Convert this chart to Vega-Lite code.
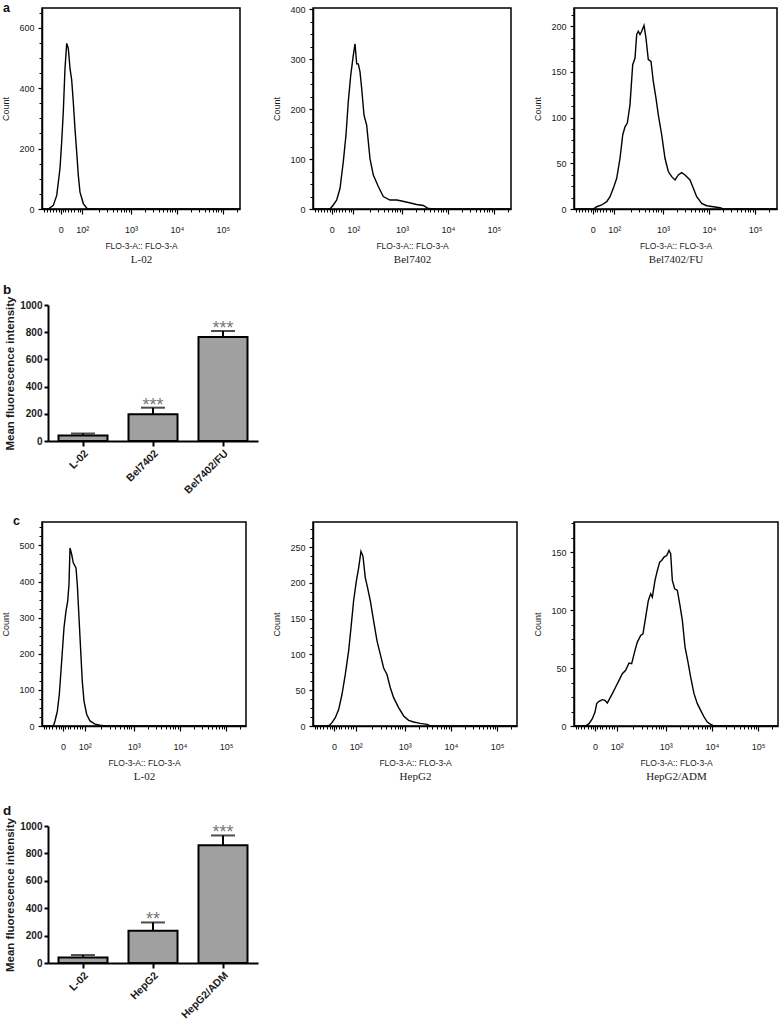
{
  "$schema": "https://vega.github.io/schema/vega-lite/v6.json",
  "padding": {"left": 0, "top": 0, "right": 0, "bottom": 0},
  "autosize": {"type": "pad"},
  "background": "white",
  "bounds": "flush",
  "spacing": 0,
  "columns": 5,
  "datasets": {
    "a1": [{"pos":1.065,"count":0},{"pos":1.202,"count":0},{"pos":1.311,"count":12},{"pos":1.385,"count":45},{"pos":1.456,"count":134},{"pos":1.493,"count":222},{"pos":1.528,"count":322},{"pos":1.565,"count":465},{"pos":1.602,"count":548},{"pos":1.637,"count":531},{"pos":1.674,"count":465},{"pos":1.71,"count":427},{"pos":1.745,"count":355},{"pos":1.782,"count":266},{"pos":1.819,"count":189},{"pos":1.854,"count":112},{"pos":1.891,"count":56},{"pos":1.963,"count":18},{"pos":2.05,"count":1},{"pos":2.3,"count":0},{"pos":5.37,"count":0}],
    "a2": [{"pos":1.065,"count":0},{"pos":1.435,"count":0},{"pos":1.506,"count":8},{"pos":1.58,"count":18},{"pos":1.652,"count":41},{"pos":1.724,"count":95},{"pos":1.782,"count":148},{"pos":1.832,"count":215},{"pos":1.885,"count":268},{"pos":1.941,"count":308},{"pos":1.978,"count":331},{"pos":2.015,"count":291},{"pos":2.05,"count":291},{"pos":2.087,"count":275},{"pos":2.124,"count":241},{"pos":2.174,"count":188},{"pos":2.232,"count":168},{"pos":2.304,"count":101},{"pos":2.376,"count":68},{"pos":2.485,"count":45},{"pos":2.593,"count":25},{"pos":2.739,"count":18},{"pos":2.885,"count":18},{"pos":2.993,"count":16},{"pos":3.137,"count":13},{"pos":3.319,"count":9},{"pos":3.463,"count":7},{"pos":3.571,"count":1},{"pos":3.7,"count":0},{"pos":5.37,"count":0}],
    "a3": [{"pos":1.065,"count":0},{"pos":1.485,"count":0},{"pos":1.558,"count":2.5},{"pos":1.667,"count":4.4},{"pos":1.776,"count":8},{"pos":1.848,"count":13.5},{"pos":1.919,"count":22.6},{"pos":1.993,"count":33.6},{"pos":2.065,"count":55.5},{"pos":2.124,"count":81},{"pos":2.174,"count":90},{"pos":2.224,"count":94},{"pos":2.282,"count":114},{"pos":2.341,"count":158},{"pos":2.391,"count":165},{"pos":2.428,"count":191},{"pos":2.463,"count":194.5},{"pos":2.5,"count":191},{"pos":2.537,"count":194.5},{"pos":2.587,"count":201},{"pos":2.63,"count":187},{"pos":2.68,"count":163.5},{"pos":2.739,"count":161.6},{"pos":2.789,"count":139.6},{"pos":2.848,"count":121},{"pos":2.898,"count":103},{"pos":2.972,"count":81},{"pos":3.043,"count":55.5},{"pos":3.115,"count":41},{"pos":3.189,"count":35.4},{"pos":3.261,"count":31.8},{"pos":3.333,"count":37.3},{"pos":3.406,"count":39.8},{"pos":3.478,"count":37.3},{"pos":3.587,"count":31.8},{"pos":3.659,"count":22.6},{"pos":3.732,"count":13.5},{"pos":3.841,"count":6.1},{"pos":3.95,"count":3.6},{"pos":4.093,"count":2.5},{"pos":4.239,"count":1.4},{"pos":4.311,"count":0},{"pos":5.478,"count":0}],
    "c1": [{"pos":1.015,"count":0},{"pos":1.26,"count":0},{"pos":1.296,"count":14},{"pos":1.347,"count":41},{"pos":1.39,"count":88},{"pos":1.441,"count":180},{"pos":1.491,"count":272},{"pos":1.534,"count":318},{"pos":1.571,"count":346},{"pos":1.599,"count":392},{"pos":1.621,"count":493},{"pos":1.658,"count":475},{"pos":1.692,"count":452},{"pos":1.751,"count":438},{"pos":1.779,"count":392},{"pos":1.816,"count":300},{"pos":1.853,"count":207},{"pos":1.887,"count":124},{"pos":1.924,"count":69},{"pos":1.983,"count":32},{"pos":2.054,"count":14},{"pos":2.162,"count":5},{"pos":2.27,"count":2},{"pos":2.4,"count":0},{"pos":5.43,"count":0}],
    "c2": [{"pos":1.015,"count":0},{"pos":1.353,"count":0},{"pos":1.426,"count":4.7},{"pos":1.498,"count":11.6},{"pos":1.57,"count":23},{"pos":1.642,"count":44},{"pos":1.714,"count":72},{"pos":1.786,"count":105},{"pos":1.837,"count":137},{"pos":1.894,"count":175},{"pos":1.952,"count":202},{"pos":2.003,"count":221},{"pos":2.053,"count":244},{"pos":2.097,"count":237},{"pos":2.147,"count":207},{"pos":2.197,"count":193},{"pos":2.255,"count":175},{"pos":2.327,"count":147},{"pos":2.4,"count":119},{"pos":2.472,"count":100},{"pos":2.544,"count":81},{"pos":2.616,"count":72},{"pos":2.688,"count":53.5},{"pos":2.76,"count":39.6},{"pos":2.868,"count":25.6},{"pos":2.977,"count":14},{"pos":3.085,"count":7.9},{"pos":3.193,"count":5.6},{"pos":3.338,"count":3.7},{"pos":3.482,"count":2.3},{"pos":3.554,"count":0},{"pos":5.43,"count":0}],
    "c3": [{"pos":1.015,"count":0},{"pos":1.268,"count":0},{"pos":1.34,"count":2},{"pos":1.412,"count":6.3},{"pos":1.47,"count":12},{"pos":1.506,"count":19.3},{"pos":1.556,"count":21.3},{"pos":1.628,"count":22.7},{"pos":1.686,"count":22.1},{"pos":1.736,"count":19.8},{"pos":1.787,"count":23.6},{"pos":1.845,"count":27.9},{"pos":1.917,"count":33.6},{"pos":1.989,"count":39.4},{"pos":2.061,"count":45.1},{"pos":2.133,"count":48},{"pos":2.205,"count":54.3},{"pos":2.263,"count":53.7},{"pos":2.335,"count":65.2},{"pos":2.386,"count":72.4},{"pos":2.458,"count":78.2},{"pos":2.508,"count":79.6},{"pos":2.566,"count":94},{"pos":2.624,"count":108.3},{"pos":2.674,"count":114.1},{"pos":2.71,"count":111.2},{"pos":2.768,"count":125.6},{"pos":2.819,"count":134.2},{"pos":2.869,"count":141.4},{"pos":2.913,"count":142.8},{"pos":2.963,"count":145.7},{"pos":3.021,"count":147.1},{"pos":3.071,"count":151.5},{"pos":3.107,"count":148.6},{"pos":3.143,"count":125.6},{"pos":3.194,"count":118.4},{"pos":3.252,"count":117},{"pos":3.302,"count":105.5},{"pos":3.36,"count":91.1},{"pos":3.418,"count":68.1},{"pos":3.475,"count":56.6},{"pos":3.54,"count":42.2},{"pos":3.612,"count":27.9},{"pos":3.684,"count":19.3},{"pos":3.757,"count":13.5},{"pos":3.829,"count":7.8},{"pos":3.901,"count":3.4},{"pos":3.973,"count":1.4},{"pos":4.045,"count":0},{"pos":5.43,"count":0}],
    "b": [{"group":"L-02","mean":40,"upper":55,"sig":""},{"group":"Bel7402","mean":196,"upper":245,"sig":"***"},{"group":"Bel7402/FU","mean":765,"upper":809,"sig":"***"}],
    "d": [{"group":"L-02","mean":41,"upper":58,"sig":""},{"group":"HepG2","mean":236,"upper":296,"sig":"**"},{"group":"HepG2/ADM","mean":859,"upper":931,"sig":"***"}],
    "blank": [{"v": 0}]
  },
  "concat": [
    {
      "width": 198, "height": 201,
      "data": {"name": "a1"},
      "title": {"text": "a", "anchor": "start", "frame": "group", "fontSize": 12.5, "fontWeight": "bold", "dx": -39, "dy": 6, "offset": 0, "color": "#111"},
      "layer": [
        {"mark": {"type": "line", "color": "black", "strokeWidth": 1.4},
         "encoding": {
           "x": {"field": "pos", "type": "quantitative", "scale": {"domain": [1.065, 5.37], "nice": false, "zero": false},
                 "axis": {"orient": "bottom", "values": [1.47, 1.94, 3, 4, 5], "labelExpr": "datum.value < 1.6 ? '0' : datum.value < 2.5 ? '10²' : datum.value < 3.5 ? '10³' : datum.value < 4.5 ? '10⁴' : '10⁵'", "labelFontSize": 9, "labelPadding": 11, "labelFlush": false, "labelOverlap": false, "tickSize": 5, "tickWidth": 1.2, "domainWidth": 1.5, "title": "FLO-3-A:: FLO-3-A", "titleFontSize": 8.5, "titleFontWeight": "normal", "titlePadding": 7}},
           "y": {"field": "count", "type": "quantitative", "scale": {"domain": [0, 665], "nice": false},
                 "axis": {"orient": "left", "values": [0, 200, 400, 600], "labelFontSize": 9, "labelPadding": 4, "tickSize": 4, "tickWidth": 1.2, "domainWidth": 1.5, "title": "Count", "titleFontSize": 9, "titleFontWeight": "normal", "titlePadding": 7, "minExtent": 25, "maxExtent": 25}}}},
        {"mark": {"type": "line", "opacity": 0},
         "encoding": {
           "x": {"field": "pos", "type": "quantitative", "scale": {"domain": [1.065, 5.37], "nice": false, "zero": false},
                 "axis": {"orient": "bottom", "values": [1.1,1.17,1.24,1.31,1.38,1.43,1.52,1.57,1.63,1.7,1.77,1.84,1.89,2.3,2.48,2.6,2.7,2.78,2.85,2.9,2.95,3.3,3.48,3.6,3.7,3.78,3.85,3.9,3.95,4.3,4.48,4.6,4.7,4.78,4.85,4.9,4.95,5.3], "labels": false, "tickSize": 3, "tickWidth": 1, "domain": false, "title": "L-02", "titleFont": "Liberation Serif", "titleFontSize": 11, "titleFontWeight": "normal", "titlePadding": 41}},
           "y": {"field": "count", "type": "quantitative", "scale": {"domain": [0, 665], "nice": false},
                 "axis": {"orient": "left", "values": [50,100,150,250,300,350,450,500,550,650], "labels": false, "tickSize": 3, "tickWidth": 1, "domain": false, "title": null}}}}
      ],
      "resolve": {"axis": {"x": "independent", "y": "independent"}}
    },
    {"width": 67, "height": 297, "view": {"stroke": null}, "data": {"name": "blank"}, "mark": {"type": "point", "opacity": 0}, "encoding": {}},
    {
      "width": 198, "height": 201,
      "data": {"name": "a2"},
      "layer": [
        {"mark": {"type": "line", "color": "black", "strokeWidth": 1.4},
         "encoding": {
           "x": {"field": "pos", "type": "quantitative", "scale": {"domain": [1.065, 5.37], "nice": false, "zero": false},
                 "axis": {"orient": "bottom", "values": [1.47, 1.94, 3, 4, 5], "labelExpr": "datum.value < 1.6 ? '0' : datum.value < 2.5 ? '10²' : datum.value < 3.5 ? '10³' : datum.value < 4.5 ? '10⁴' : '10⁵'", "labelFontSize": 9, "labelPadding": 11, "labelFlush": false, "labelOverlap": false, "tickSize": 5, "tickWidth": 1.2, "domainWidth": 1.5, "title": "FLO-3-A:: FLO-3-A", "titleFontSize": 8.5, "titleFontWeight": "normal", "titlePadding": 7}},
           "y": {"field": "count", "type": "quantitative", "scale": {"domain": [0, 403], "nice": false},
                 "axis": {"orient": "left", "values": [0, 100, 200, 300, 400], "labelFontSize": 9, "labelPadding": 4, "tickSize": 4, "tickWidth": 1.2, "domainWidth": 1.5, "title": "Count", "titleFontSize": 9, "titleFontWeight": "normal", "titlePadding": 7, "minExtent": 25, "maxExtent": 25}}}},
        {"mark": {"type": "line", "opacity": 0},
         "encoding": {
           "x": {"field": "pos", "type": "quantitative", "scale": {"domain": [1.065, 5.37], "nice": false, "zero": false},
                 "axis": {"orient": "bottom", "values": [1.1,1.17,1.24,1.31,1.38,1.43,1.52,1.57,1.63,1.7,1.77,1.84,1.89,2.3,2.48,2.6,2.7,2.78,2.85,2.9,2.95,3.3,3.48,3.6,3.7,3.78,3.85,3.9,3.95,4.3,4.48,4.6,4.7,4.78,4.85,4.9,4.95,5.3], "labels": false, "tickSize": 3, "tickWidth": 1, "domain": false, "title": "Bel7402", "titleFont": "Liberation Serif", "titleFontSize": 11, "titleFontWeight": "normal", "titlePadding": 41}},
           "y": {"field": "count", "type": "quantitative", "scale": {"domain": [0, 403], "nice": false},
                 "axis": {"orient": "left", "values": [25,50,75,125,150,175,225,250,275,325,350,375], "labels": false, "tickSize": 3, "tickWidth": 1, "domain": false, "title": null}}}}
      ],
      "resolve": {"axis": {"x": "independent", "y": "independent"}}
    },
    {"width": 57, "height": 1, "view": {"stroke": null}, "data": {"name": "blank"}, "mark": {"type": "point", "opacity": 0}, "encoding": {}},
    {
      "width": 203, "height": 201,
      "data": {"name": "a3"},
      "layer": [
        {"mark": {"type": "line", "color": "black", "strokeWidth": 1.4},
         "encoding": {
           "x": {"field": "pos", "type": "quantitative", "scale": {"domain": [1.065, 5.478], "nice": false, "zero": false},
                 "axis": {"orient": "bottom", "values": [1.47, 1.94, 3, 4, 5], "labelExpr": "datum.value < 1.6 ? '0' : datum.value < 2.5 ? '10²' : datum.value < 3.5 ? '10³' : datum.value < 4.5 ? '10⁴' : '10⁵'", "labelFontSize": 9, "labelPadding": 11, "labelFlush": false, "labelOverlap": false, "tickSize": 5, "tickWidth": 1.2, "domainWidth": 1.5, "title": "FLO-3-A:: FLO-3-A", "titleFontSize": 8.5, "titleFontWeight": "normal", "titlePadding": 7}},
           "y": {"field": "count", "type": "quantitative", "scale": {"domain": [0, 220], "nice": false},
                 "axis": {"orient": "left", "values": [0, 50, 100, 150, 200], "labelFontSize": 9, "labelPadding": 4, "tickSize": 4, "tickWidth": 1.2, "domainWidth": 1.5, "title": "Count", "titleFontSize": 9, "titleFontWeight": "normal", "titlePadding": 7, "minExtent": 25, "maxExtent": 25}}}},
        {"mark": {"type": "line", "opacity": 0},
         "encoding": {
           "x": {"field": "pos", "type": "quantitative", "scale": {"domain": [1.065, 5.478], "nice": false, "zero": false},
                 "axis": {"orient": "bottom", "values": [1.1,1.17,1.24,1.31,1.38,1.43,1.52,1.57,1.63,1.7,1.77,1.84,1.89,2.3,2.48,2.6,2.7,2.78,2.85,2.9,2.95,3.3,3.48,3.6,3.7,3.78,3.85,3.9,3.95,4.3,4.48,4.6,4.7,4.78,4.85,4.9,4.95,5.3], "labels": false, "tickSize": 3, "tickWidth": 1, "domain": false, "title": "Bel7402/FU", "titleFont": "Liberation Serif", "titleFontSize": 11, "titleFontWeight": "normal", "titlePadding": 41}},
           "y": {"field": "count", "type": "quantitative", "scale": {"domain": [0, 220], "nice": false},
                 "axis": {"orient": "left", "values": [12.5,25,37.5,62.5,75,87.5,112.5,125,137.5,162.5,175,187.5,212.5], "labels": false, "tickSize": 3, "tickWidth": 1, "domain": false, "title": null}}}}
      ],
      "resolve": {"axis": {"x": "independent", "y": "independent"}}
    },
    {
      "bounds": "flush",
      "spacing": 5,
      "hconcat": [
        {"width": 1, "height": 1, "view": {"stroke": null}, "data": {"name": "blank"}, "mark": {"type": "point", "opacity": 0}, "encoding": {}},
        {
          "width": 210, "height": 136,
          "view": {"stroke": null},
          "data": {"name": "b"},
          "title": {"text": "b", "anchor": "start", "frame": "group", "fontSize": 13.5, "fontWeight": "bold", "dx": -45, "dy": 1, "offset": 0, "color": "#111"},
          "encoding": {
            "x": {"field": "group", "type": "nominal", "sort": null, "scale": {"paddingInner": 0.3, "paddingOuter": 0.15},
                  "axis": {"title": null, "labelAngle": -45, "labelFontSize": 10.5, "labelFontWeight": "bold", "tickSize": 5, "tickWidth": 2, "domainWidth": 2, "labelPadding": 2}}
          },
          "layer": [
            {"mark": {"type": "bar", "fill": "#a0a0a0", "stroke": "black", "strokeWidth": 2},
             "encoding": {"y": {"field": "mean", "type": "quantitative", "scale": {"domain": [0, 1000], "nice": false},
               "axis": {"title": "Mean fluorescence intensity", "values": [0, 200, 400, 600, 800, 1000], "format": "d", "labelOverlap": false, "labelFontSize": 10, "labelFontWeight": "bold", "tickSize": 4, "tickWidth": 2, "domainWidth": 2, "labelPadding": 2, "titleFontSize": 11.5, "titleFontWeight": "bold", "titlePadding": 6, "minExtent": 27, "maxExtent": 27}}}},
            {"mark": {"type": "rule", "strokeWidth": 2, "color": "black"},
             "encoding": {"y": {"field": "mean", "type": "quantitative", "scale": {"domain": [0, 1000], "nice": false},
               "axis": {"title": "Mean fluorescence intensity", "values": [0, 200, 400, 600, 800, 1000], "format": "d", "labelOverlap": false, "labelFontSize": 10, "labelFontWeight": "bold", "tickSize": 4, "tickWidth": 2, "domainWidth": 2, "labelPadding": 2, "titleFontSize": 11.5, "titleFontWeight": "bold", "titlePadding": 6, "minExtent": 27, "maxExtent": 27}}, "y2": {"field": "upper"}}},
            {"mark": {"type": "tick", "color": "black", "thickness": 2, "size": 24},
             "encoding": {"y": {"field": "upper", "type": "quantitative", "scale": {"domain": [0, 1000], "nice": false},
               "axis": {"title": "Mean fluorescence intensity", "values": [0, 200, 400, 600, 800, 1000], "format": "d", "labelOverlap": false, "labelFontSize": 10, "labelFontWeight": "bold", "tickSize": 4, "tickWidth": 2, "domainWidth": 2, "labelPadding": 2, "titleFontSize": 11.5, "titleFontWeight": "bold", "titlePadding": 6, "minExtent": 27, "maxExtent": 27}}}},
            {"mark": {"type": "text", "fontSize": 18, "color": "#777777", "baseline": "alphabetic", "dy": 3},
             "encoding": {"y": {"field": "upper", "type": "quantitative", "scale": {"domain": [0, 1000], "nice": false},
               "axis": {"title": "Mean fluorescence intensity", "values": [0, 200, 400, 600, 800, 1000], "format": "d", "labelOverlap": false, "labelFontSize": 10, "labelFontWeight": "bold", "tickSize": 4, "tickWidth": 2, "domainWidth": 2, "labelPadding": 2, "titleFontSize": 11.5, "titleFontWeight": "bold", "titlePadding": 6, "minExtent": 27, "maxExtent": 27}}, "text": {"field": "sig"}}}
          ]
        }
      ]
    },
    {"width": 1, "height": 217, "view": {"stroke": null}, "data": {"name": "blank"}, "mark": {"type": "point", "opacity": 0}, "encoding": {}},
    {"width": 1, "height": 1, "view": {"stroke": null}, "data": {"name": "blank"}, "mark": {"type": "point", "opacity": 0}, "encoding": {}},
    {"width": 1, "height": 1, "view": {"stroke": null}, "data": {"name": "blank"}, "mark": {"type": "point", "opacity": 0}, "encoding": {}},
    {"width": 1, "height": 1, "view": {"stroke": null}, "data": {"name": "blank"}, "mark": {"type": "point", "opacity": 0}, "encoding": {}},
    {
      "width": 204, "height": 204,
      "data": {"name": "c1"},
      "title": {"text": "c", "anchor": "start", "frame": "group", "fontSize": 12.5, "fontWeight": "bold", "dx": -29, "dy": 5, "offset": 0, "color": "#111"},
      "layer": [
        {"mark": {"type": "line", "color": "black", "strokeWidth": 1.4},
         "encoding": {
           "x": {"field": "pos", "type": "quantitative", "scale": {"domain": [1.015, 5.43], "nice": false, "zero": false},
                 "axis": {"orient": "bottom", "values": [1.47, 1.94, 3, 4, 5], "labelExpr": "datum.value < 1.6 ? '0' : datum.value < 2.5 ? '10²' : datum.value < 3.5 ? '10³' : datum.value < 4.5 ? '10⁴' : '10⁵'", "labelFontSize": 9, "labelPadding": 11, "labelFlush": false, "labelOverlap": false, "tickSize": 5, "tickWidth": 1.2, "domainWidth": 1.5, "title": "FLO-3-A:: FLO-3-A", "titleFontSize": 8.5, "titleFontWeight": "normal", "titlePadding": 7}},
           "y": {"field": "count", "type": "quantitative", "scale": {"domain": [0, 565], "nice": false},
                 "axis": {"orient": "left", "values": [0, 100, 200, 300, 400, 500], "labelFontSize": 9, "labelPadding": 4, "tickSize": 4, "tickWidth": 1.2, "domainWidth": 1.5, "title": "Count", "titleFontSize": 9, "titleFontWeight": "normal", "titlePadding": 7, "minExtent": 25, "maxExtent": 25}}}},
        {"mark": {"type": "line", "opacity": 0},
         "encoding": {
           "x": {"field": "pos", "type": "quantitative", "scale": {"domain": [1.015, 5.43], "nice": false, "zero": false},
                 "axis": {"orient": "bottom", "values": [1.05,1.1,1.17,1.24,1.31,1.38,1.43,1.52,1.57,1.63,1.7,1.77,1.84,1.89,2.3,2.48,2.6,2.7,2.78,2.85,2.9,2.95,3.3,3.48,3.6,3.7,3.78,3.85,3.9,3.95,4.3,4.48,4.6,4.7,4.78,4.85,4.9,4.95,5.3], "labels": false, "tickSize": 3, "tickWidth": 1, "domain": false, "title": "L-02", "titleFont": "Liberation Serif", "titleFontSize": 11, "titleFontWeight": "normal", "titlePadding": 41}},
           "y": {"field": "count", "type": "quantitative", "scale": {"domain": [0, 565], "nice": false},
                 "axis": {"orient": "left", "values": [25,50,75,125,150,175,225,250,275,325,350,375,425,450,475,525,550], "labels": false, "tickSize": 3, "tickWidth": 1, "domain": false, "title": null}}}}
      ],
      "resolve": {"axis": {"x": "independent", "y": "independent"}}
    },
    {"width": 67, "height": 304, "view": {"stroke": null}, "data": {"name": "blank"}, "mark": {"type": "point", "opacity": 0}, "encoding": {}},
    {
      "width": 204, "height": 204,
      "data": {"name": "c2"},
      "layer": [
        {"mark": {"type": "line", "color": "black", "strokeWidth": 1.4},
         "encoding": {
           "x": {"field": "pos", "type": "quantitative", "scale": {"domain": [1.015, 5.43], "nice": false, "zero": false},
                 "axis": {"orient": "bottom", "values": [1.47, 1.94, 3, 4, 5], "labelExpr": "datum.value < 1.6 ? '0' : datum.value < 2.5 ? '10²' : datum.value < 3.5 ? '10³' : datum.value < 4.5 ? '10⁴' : '10⁵'", "labelFontSize": 9, "labelPadding": 11, "labelFlush": false, "labelOverlap": false, "tickSize": 5, "tickWidth": 1.2, "domainWidth": 1.5, "title": "FLO-3-A:: FLO-3-A", "titleFontSize": 8.5, "titleFontWeight": "normal", "titlePadding": 7}},
           "y": {"field": "count", "type": "quantitative", "scale": {"domain": [0, 285], "nice": false},
                 "axis": {"orient": "left", "values": [0, 50, 100, 150, 200, 250], "labelFontSize": 9, "labelPadding": 4, "tickSize": 4, "tickWidth": 1.2, "domainWidth": 1.5, "title": "Count", "titleFontSize": 9, "titleFontWeight": "normal", "titlePadding": 7, "minExtent": 25, "maxExtent": 25}}}},
        {"mark": {"type": "line", "opacity": 0},
         "encoding": {
           "x": {"field": "pos", "type": "quantitative", "scale": {"domain": [1.015, 5.43], "nice": false, "zero": false},
                 "axis": {"orient": "bottom", "values": [1.05,1.1,1.17,1.24,1.31,1.38,1.43,1.52,1.57,1.63,1.7,1.77,1.84,1.89,2.3,2.48,2.6,2.7,2.78,2.85,2.9,2.95,3.3,3.48,3.6,3.7,3.78,3.85,3.9,3.95,4.3,4.48,4.6,4.7,4.78,4.85,4.9,4.95,5.3], "labels": false, "tickSize": 3, "tickWidth": 1, "domain": false, "title": "HepG2", "titleFont": "Liberation Serif", "titleFontSize": 11, "titleFontWeight": "normal", "titlePadding": 41}},
           "y": {"field": "count", "type": "quantitative", "scale": {"domain": [0, 285], "nice": false},
                 "axis": {"orient": "left", "values": [12.5,25,37.5,62.5,75,87.5,112.5,125,137.5,162.5,175,187.5,212.5,225,237.5,262.5,275], "labels": false, "tickSize": 3, "tickWidth": 1, "domain": false, "title": null}}}}
      ],
      "resolve": {"axis": {"x": "independent", "y": "independent"}}
    },
    {"width": 57, "height": 1, "view": {"stroke": null}, "data": {"name": "blank"}, "mark": {"type": "point", "opacity": 0}, "encoding": {}},
    {
      "width": 204, "height": 204,
      "data": {"name": "c3"},
      "layer": [
        {"mark": {"type": "line", "color": "black", "strokeWidth": 1.4},
         "encoding": {
           "x": {"field": "pos", "type": "quantitative", "scale": {"domain": [1.015, 5.43], "nice": false, "zero": false},
                 "axis": {"orient": "bottom", "values": [1.47, 1.94, 3, 4, 5], "labelExpr": "datum.value < 1.6 ? '0' : datum.value < 2.5 ? '10²' : datum.value < 3.5 ? '10³' : datum.value < 4.5 ? '10⁴' : '10⁵'", "labelFontSize": 9, "labelPadding": 11, "labelFlush": false, "labelOverlap": false, "tickSize": 5, "tickWidth": 1.2, "domainWidth": 1.5, "title": "FLO-3-A:: FLO-3-A", "titleFontSize": 8.5, "titleFontWeight": "normal", "titlePadding": 7}},
           "y": {"field": "count", "type": "quantitative", "scale": {"domain": [0, 176], "nice": false},
                 "axis": {"orient": "left", "values": [0, 50, 100, 150], "labelFontSize": 9, "labelPadding": 4, "tickSize": 4, "tickWidth": 1.2, "domainWidth": 1.5, "title": "Count", "titleFontSize": 9, "titleFontWeight": "normal", "titlePadding": 7, "minExtent": 25, "maxExtent": 25}}}},
        {"mark": {"type": "line", "opacity": 0},
         "encoding": {
           "x": {"field": "pos", "type": "quantitative", "scale": {"domain": [1.015, 5.43], "nice": false, "zero": false},
                 "axis": {"orient": "bottom", "values": [1.05,1.1,1.17,1.24,1.31,1.38,1.43,1.52,1.57,1.63,1.7,1.77,1.84,1.89,2.3,2.48,2.6,2.7,2.78,2.85,2.9,2.95,3.3,3.48,3.6,3.7,3.78,3.85,3.9,3.95,4.3,4.48,4.6,4.7,4.78,4.85,4.9,4.95,5.3], "labels": false, "tickSize": 3, "tickWidth": 1, "domain": false, "title": "HepG2/ADM", "titleFont": "Liberation Serif", "titleFontSize": 11, "titleFontWeight": "normal", "titlePadding": 41}},
           "y": {"field": "count", "type": "quantitative", "scale": {"domain": [0, 176], "nice": false},
                 "axis": {"orient": "left", "values": [12.5,25,37.5,62.5,75,87.5,112.5,125,137.5,162.5,175], "labels": false, "tickSize": 3, "tickWidth": 1, "domain": false, "title": null}}}}
      ],
      "resolve": {"axis": {"x": "independent", "y": "independent"}}
    },
    {
      "bounds": "flush",
      "spacing": 5,
      "hconcat": [
        {"width": 1, "height": 1, "view": {"stroke": null}, "data": {"name": "blank"}, "mark": {"type": "point", "opacity": 0}, "encoding": {}},
        {
          "width": 210, "height": 137,
          "view": {"stroke": null},
          "data": {"name": "d"},
          "title": {"text": "d", "anchor": "start", "frame": "group", "fontSize": 13.5, "fontWeight": "bold", "dx": -45, "dy": 0, "offset": 0, "color": "#111"},
          "encoding": {
            "x": {"field": "group", "type": "nominal", "sort": null, "scale": {"paddingInner": 0.3, "paddingOuter": 0.15},
                  "axis": {"title": null, "labelAngle": -45, "labelFontSize": 10.5, "labelFontWeight": "bold", "tickSize": 5, "tickWidth": 2, "domainWidth": 2, "labelPadding": 2}}
          },
          "layer": [
            {"mark": {"type": "bar", "fill": "#a0a0a0", "stroke": "black", "strokeWidth": 2},
             "encoding": {"y": {"field": "mean", "type": "quantitative", "scale": {"domain": [0, 1000], "nice": false},
               "axis": {"title": "Mean fluorescence intensity", "values": [0, 200, 400, 600, 800, 1000], "format": "d", "labelOverlap": false, "labelFontSize": 10, "labelFontWeight": "bold", "tickSize": 4, "tickWidth": 2, "domainWidth": 2, "labelPadding": 2, "titleFontSize": 11.5, "titleFontWeight": "bold", "titlePadding": 6, "minExtent": 27, "maxExtent": 27}}}},
            {"mark": {"type": "rule", "strokeWidth": 2, "color": "black"},
             "encoding": {"y": {"field": "mean", "type": "quantitative", "scale": {"domain": [0, 1000], "nice": false},
               "axis": {"title": "Mean fluorescence intensity", "values": [0, 200, 400, 600, 800, 1000], "format": "d", "labelOverlap": false, "labelFontSize": 10, "labelFontWeight": "bold", "tickSize": 4, "tickWidth": 2, "domainWidth": 2, "labelPadding": 2, "titleFontSize": 11.5, "titleFontWeight": "bold", "titlePadding": 6, "minExtent": 27, "maxExtent": 27}}, "y2": {"field": "upper"}}},
            {"mark": {"type": "tick", "color": "black", "thickness": 2, "size": 24},
             "encoding": {"y": {"field": "upper", "type": "quantitative", "scale": {"domain": [0, 1000], "nice": false},
               "axis": {"title": "Mean fluorescence intensity", "values": [0, 200, 400, 600, 800, 1000], "format": "d", "labelOverlap": false, "labelFontSize": 10, "labelFontWeight": "bold", "tickSize": 4, "tickWidth": 2, "domainWidth": 2, "labelPadding": 2, "titleFontSize": 11.5, "titleFontWeight": "bold", "titlePadding": 6, "minExtent": 27, "maxExtent": 27}}}},
            {"mark": {"type": "text", "fontSize": 18, "color": "#777777", "baseline": "alphabetic", "dy": 3},
             "encoding": {"y": {"field": "upper", "type": "quantitative", "scale": {"domain": [0, 1000], "nice": false},
               "axis": {"title": "Mean fluorescence intensity", "values": [0, 200, 400, 600, 800, 1000], "format": "d", "labelOverlap": false, "labelFontSize": 10, "labelFontWeight": "bold", "tickSize": 4, "tickWidth": 2, "domainWidth": 2, "labelPadding": 2, "titleFontSize": 11.5, "titleFontWeight": "bold", "titlePadding": 6, "minExtent": 27, "maxExtent": 27}}, "text": {"field": "sig"}}}
          ]
        }
      ]
    },
    {"width": 1, "height": 1, "view": {"stroke": null}, "data": {"name": "blank"}, "mark": {"type": "point", "opacity": 0}, "encoding": {}},
    {"width": 1, "height": 1, "view": {"stroke": null}, "data": {"name": "blank"}, "mark": {"type": "point", "opacity": 0}, "encoding": {}},
    {"width": 1, "height": 1, "view": {"stroke": null}, "data": {"name": "blank"}, "mark": {"type": "point", "opacity": 0}, "encoding": {}},
    {"width": 1, "height": 1, "view": {"stroke": null}, "data": {"name": "blank"}, "mark": {"type": "point", "opacity": 0}, "encoding": {}}
  ],
  "config": {
    "font": "Liberation Sans",
    "view": {"stroke": "black", "strokeWidth": 1.5},
    "axis": {"labelColor": "#1a1a1a", "titleColor": "#1a1a1a", "domainColor": "black", "tickColor": "black", "grid": false, "labelFont": "Liberation Sans", "titleFont": "Liberation Sans"},
    "title": {"font": "Liberation Sans"}
  }
}
